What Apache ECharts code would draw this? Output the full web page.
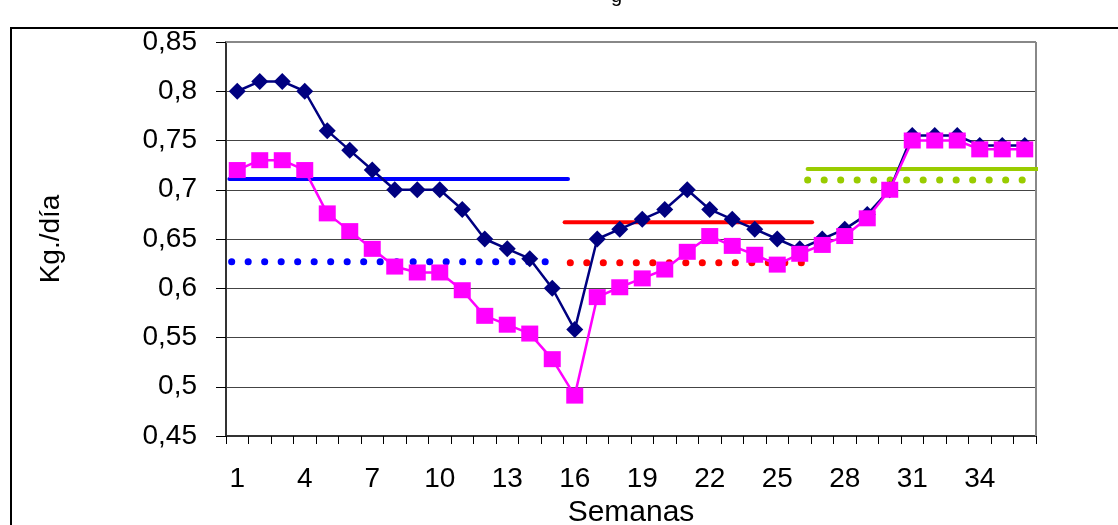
<!DOCTYPE html>
<html>
<head>
<meta charset="utf-8">
<script src="https://cdn.jsdelivr.net/npm/echarts@6/dist/echarts.min.js"></script>
<style>html,body{margin:0;padding:0;background:#fff;}#c{width:1118px;height:525px;}</style>
</head>
<body>
<div id="c"></div>
<script>
const weeks = Array.from({length: 36}, (_, i) => String(i + 1));
const seriesA = [0.80,0.81,0.81,0.80,0.76,0.74,0.72,0.70,0.70,0.70,0.68,0.65,0.64,0.63,0.60,0.558,0.65,0.66,0.67,0.68,0.70,0.68,0.67,0.66,0.65,0.64,0.65,0.66,0.675,0.70,0.755,0.755,0.755,0.745,0.745,0.745];
const seriesB = [0.72,0.73,0.73,0.72,0.676,0.658,0.64,0.622,0.616,0.616,0.598,0.572,0.563,0.554,0.528,0.491,0.591,0.601,0.61,0.619,0.637,0.653,0.643,0.634,0.624,0.635,0.644,0.653,0.671,0.70,0.75,0.75,0.75,0.741,0.741,0.741];
// period averages: [startX, endX, value] on a 0..36 week scale
const avgBlueSolid = [0.15, 15.2, 0.711];
const avgBlueDot = [0.25, 14.35, 0.627];
const avgRedSolid = [15.05, 26.05, 0.667];
const avgRedDot = [15.3, 25.85, 0.626];
const avgGreenSolid = [25.85, 36.2, 0.721];
const avgGreenDot = [25.85, 35.55, 0.71];
const yTicks = {min: 0.45, max: 0.85, step: 0.05};

const font = 'Liberation Sans';
function seg(a){ return [[a[0], a[2]], [a[1], a[2]]]; }
function solid(name, a, color){
  return {name, type:'line', xAxisIndex:1, data:seg(a), symbol:'none', silent:true, z:3,
    lineStyle:{color, width:4, cap:'round'}};
}
function dotted(name, a, color){
  return {name, type:'line', xAxisIndex:1, data:seg(a), symbol:'none', silent:true, z:3,
    lineStyle:{color, width:7, type:[0.1, 16.4], cap:'round'}};
}
const chart = echarts.init(document.getElementById('c'));
chart.setOption({
  animation:false,
  backgroundColor:'#fff',
  grid:{left:226, right:82, top:42, bottom:89, show:false, containLabel:false, outerBoundsMode:'none'},
  graphic:[
    {type:'rect', shape:{x:11, y:28, width:1130, height:520}, style:{fill:'none', stroke:'#000', lineWidth:2}, z:-1},
    {type:'line', shape:{x1:226, y1:42, x2:1036, y2:42}, style:{stroke:'#888', lineWidth:2}, z:1},
    {type:'line', shape:{x1:1036, y1:42, x2:1036, y2:436}, style:{stroke:'#888', lineWidth:2}, z:1},
    {type:'text', left:611, top:-14, style:{text:'g', font:'20px Liberation Sans', fill:'#000'}}
  ],
  xAxis:[
    {type:'category', data:weeks, boundaryGap:true,
     name:'Semanas', nameLocation:'middle', nameGap:61,
     nameTextStyle:{fontFamily:font, fontSize:30, color:'#000'},
     axisLine:{lineStyle:{color:'#333', width:2}},
     axisTick:{show:true, interval:0, length:8, lineStyle:{color:'#000', width:1}},
     axisLabel:{interval:2, fontFamily:font, fontSize:28, color:'#000', margin:29},
     splitLine:{show:false}},
    {type:'value', min:0, max:36, show:false}
  ],
  yAxis:{type:'value', min:yTicks.min, max:yTicks.max, interval:yTicks.step,
    name:'Kg./día', nameLocation:'middle', nameGap:161, nameRotate:90,
    nameTextStyle:{fontFamily:font, fontSize:28, color:'#000'},
    axisLine:{show:true, lineStyle:{color:'#333', width:2}},
    axisTick:{show:true, length:10, lineStyle:{color:'#000', width:1}},
    axisLabel:{fontFamily:font, fontSize:28, color:'#000', margin:29,
      formatter:v => (Math.round(v*100)/100).toString().replace('.', ',')},
    splitLine:{show:true, lineStyle:{color:'#444', width:1}}},
  series:[
    solid('Media 1', avgBlueSolid, '#0000FF'),
    dotted('Media 1b', avgBlueDot, '#0000FF'),
    solid('Media 2', avgRedSolid, '#FF0000'),
    dotted('Media 2b', avgRedDot, '#FF0000'),
    solid('Media 3', avgGreenSolid, '#99CC00'),
    dotted('Media 3b', avgGreenDot, '#99CC00'),
    {name:'A', type:'line', data:seriesA, symbol:'diamond', symbolSize:[17,17], showAllSymbol:true, z:4,
     itemStyle:{color:'#000080'}, lineStyle:{color:'#000080', width:2.5}},
    {name:'B', type:'line', data:seriesB, symbol:'rect', symbolSize:[17,16], showAllSymbol:true, z:5,
     itemStyle:{color:'#FF00FF'}, lineStyle:{color:'#FF00FF', width:2.5}}
  ]
});
</script>
</body>
</html>
